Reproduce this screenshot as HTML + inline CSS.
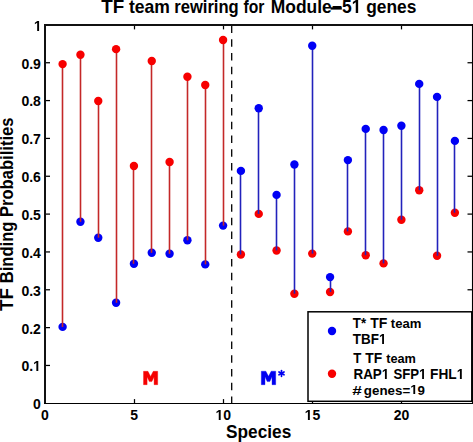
<!DOCTYPE html>
<html><head><meta charset="utf-8"><style>
html,body{margin:0;padding:0;background:#fff;overflow:hidden;}
svg{display:block;}
text{font-family:"Liberation Sans",sans-serif;font-weight:bold;fill:#000;}
</style></head><body>
<svg width="473" height="442" viewBox="0 0 473 442">
<rect width="473" height="442" fill="#fff"/>
<text transform="translate(13.00,310.89) rotate(-90) scale(0.9899,1)" font-size="19">TF</text>
<text transform="translate(13.00,283.32) rotate(-90) scale(0.9230,1)" font-size="18">Binding</text>
<text transform="translate(13.00,217.02) rotate(-90) scale(0.9221,1)" font-size="18">Probabilities</text>
<line x1="231.7" y1="25.6" x2="231.7" y2="403.3" stroke="#000" stroke-width="1.3" stroke-dasharray="7.5,6.233"/>
<g stroke="#000" stroke-width="1.25">
<line x1="134.50" y1="403.5" x2="134.50" y2="399.1" />
<line x1="134.50" y1="25" x2="134.50" y2="29.4" />
<line x1="223.50" y1="403.5" x2="223.50" y2="399.1" />
<line x1="223.50" y1="25" x2="223.50" y2="29.4" />
<line x1="312.50" y1="403.5" x2="312.50" y2="399.1" />
<line x1="312.50" y1="25" x2="312.50" y2="29.4" />
<line x1="401.50" y1="403.5" x2="401.50" y2="399.1" />
<line x1="401.50" y1="25" x2="401.50" y2="29.4" />
<line x1="45" y1="365.46" x2="50.0" y2="365.46" />
<line x1="472.5" y1="365.46" x2="467.5" y2="365.46" />
<line x1="45" y1="327.62" x2="50.0" y2="327.62" />
<line x1="472.5" y1="327.62" x2="467.5" y2="327.62" />
<line x1="45" y1="289.78" x2="50.0" y2="289.78" />
<line x1="472.5" y1="289.78" x2="467.5" y2="289.78" />
<line x1="45" y1="251.94" x2="50.0" y2="251.94" />
<line x1="472.5" y1="251.94" x2="467.5" y2="251.94" />
<line x1="45" y1="214.10" x2="50.0" y2="214.10" />
<line x1="472.5" y1="214.10" x2="467.5" y2="214.10" />
<line x1="45" y1="176.26" x2="50.0" y2="176.26" />
<line x1="472.5" y1="176.26" x2="467.5" y2="176.26" />
<line x1="45" y1="138.42" x2="50.0" y2="138.42" />
<line x1="472.5" y1="138.42" x2="467.5" y2="138.42" />
<line x1="45" y1="100.58" x2="50.0" y2="100.58" />
<line x1="472.5" y1="100.58" x2="467.5" y2="100.58" />
<line x1="45" y1="62.74" x2="50.0" y2="62.74" />
<line x1="472.5" y1="62.74" x2="467.5" y2="62.74" />
</g>
<circle cx="62.60" cy="326.90" r="4.2" fill="#0000f5"/>
<circle cx="80.43" cy="221.80" r="4.2" fill="#0000f5"/>
<circle cx="98.26" cy="237.70" r="4.2" fill="#0000f5"/>
<circle cx="116.09" cy="302.80" r="4.2" fill="#0000f5"/>
<circle cx="133.93" cy="263.80" r="4.2" fill="#0000f5"/>
<circle cx="151.76" cy="252.80" r="4.2" fill="#0000f5"/>
<circle cx="169.59" cy="253.80" r="4.2" fill="#0000f5"/>
<circle cx="187.42" cy="240.30" r="4.2" fill="#0000f5"/>
<circle cx="205.25" cy="264.40" r="4.2" fill="#0000f5"/>
<circle cx="223.08" cy="225.60" r="4.2" fill="#0000f5"/>
<circle cx="240.91" cy="254.50" r="4.2" fill="#f70000"/>
<circle cx="258.74" cy="213.90" r="4.2" fill="#f70000"/>
<circle cx="276.57" cy="250.50" r="4.2" fill="#f70000"/>
<circle cx="294.40" cy="293.70" r="4.2" fill="#f70000"/>
<circle cx="312.23" cy="253.60" r="4.2" fill="#f70000"/>
<circle cx="330.07" cy="292.00" r="4.2" fill="#f70000"/>
<circle cx="347.90" cy="231.40" r="4.2" fill="#f70000"/>
<circle cx="365.73" cy="255.20" r="4.2" fill="#f70000"/>
<circle cx="383.56" cy="263.40" r="4.2" fill="#f70000"/>
<circle cx="401.39" cy="219.75" r="4.2" fill="#f70000"/>
<circle cx="419.22" cy="190.20" r="4.2" fill="#f70000"/>
<circle cx="437.05" cy="255.70" r="4.2" fill="#f70000"/>
<circle cx="454.88" cy="212.70" r="4.2" fill="#f70000"/>
<line x1="62.50" y1="64.10" x2="62.50" y2="326.90" stroke="#c42828" stroke-width="1.6"/>
<line x1="80.50" y1="54.70" x2="80.50" y2="221.80" stroke="#c42828" stroke-width="1.6"/>
<line x1="98.50" y1="101.00" x2="98.50" y2="237.70" stroke="#c42828" stroke-width="1.6"/>
<line x1="116.50" y1="49.15" x2="116.50" y2="302.80" stroke="#c42828" stroke-width="1.6"/>
<line x1="133.50" y1="166.00" x2="133.50" y2="263.80" stroke="#c42828" stroke-width="1.6"/>
<line x1="151.50" y1="61.00" x2="151.50" y2="252.80" stroke="#c42828" stroke-width="1.6"/>
<line x1="169.50" y1="161.95" x2="169.50" y2="253.80" stroke="#c42828" stroke-width="1.6"/>
<line x1="187.50" y1="76.80" x2="187.50" y2="240.30" stroke="#c42828" stroke-width="1.6"/>
<line x1="205.50" y1="85.00" x2="205.50" y2="264.40" stroke="#c42828" stroke-width="1.6"/>
<line x1="223.50" y1="40.00" x2="223.50" y2="225.60" stroke="#c42828" stroke-width="1.6"/>
<line x1="240.50" y1="170.90" x2="240.50" y2="254.50" stroke="#2222bc" stroke-width="1.6"/>
<line x1="258.50" y1="108.30" x2="258.50" y2="213.90" stroke="#2222bc" stroke-width="1.6"/>
<line x1="276.50" y1="194.90" x2="276.50" y2="250.50" stroke="#2222bc" stroke-width="1.6"/>
<line x1="294.50" y1="164.50" x2="294.50" y2="293.70" stroke="#2222bc" stroke-width="1.6"/>
<line x1="312.50" y1="45.80" x2="312.50" y2="253.60" stroke="#2222bc" stroke-width="1.6"/>
<line x1="330.50" y1="277.10" x2="330.50" y2="292.00" stroke="#2222bc" stroke-width="1.6"/>
<line x1="347.50" y1="160.10" x2="347.50" y2="231.40" stroke="#2222bc" stroke-width="1.6"/>
<line x1="365.50" y1="128.90" x2="365.50" y2="255.20" stroke="#2222bc" stroke-width="1.6"/>
<line x1="383.50" y1="130.00" x2="383.50" y2="263.40" stroke="#2222bc" stroke-width="1.6"/>
<line x1="401.50" y1="125.70" x2="401.50" y2="219.75" stroke="#2222bc" stroke-width="1.6"/>
<line x1="419.50" y1="83.90" x2="419.50" y2="190.20" stroke="#2222bc" stroke-width="1.6"/>
<line x1="437.50" y1="96.90" x2="437.50" y2="255.70" stroke="#2222bc" stroke-width="1.6"/>
<line x1="454.50" y1="140.90" x2="454.50" y2="212.70" stroke="#2222bc" stroke-width="1.6"/>
<circle cx="62.60" cy="64.10" r="4.2" fill="#f70000"/>
<circle cx="80.43" cy="54.70" r="4.2" fill="#f70000"/>
<circle cx="98.26" cy="101.00" r="4.2" fill="#f70000"/>
<circle cx="116.09" cy="49.15" r="4.2" fill="#f70000"/>
<circle cx="133.93" cy="166.00" r="4.2" fill="#f70000"/>
<circle cx="151.76" cy="61.00" r="4.2" fill="#f70000"/>
<circle cx="169.59" cy="161.95" r="4.2" fill="#f70000"/>
<circle cx="187.42" cy="76.80" r="4.2" fill="#f70000"/>
<circle cx="205.25" cy="85.00" r="4.2" fill="#f70000"/>
<circle cx="223.08" cy="40.00" r="4.2" fill="#f70000"/>
<circle cx="240.91" cy="170.90" r="4.2" fill="#0000f5"/>
<circle cx="258.74" cy="108.30" r="4.2" fill="#0000f5"/>
<circle cx="276.57" cy="194.90" r="4.2" fill="#0000f5"/>
<circle cx="294.40" cy="164.50" r="4.2" fill="#0000f5"/>
<circle cx="312.23" cy="45.80" r="4.2" fill="#0000f5"/>
<circle cx="330.07" cy="277.10" r="4.2" fill="#0000f5"/>
<circle cx="347.90" cy="160.10" r="4.2" fill="#0000f5"/>
<circle cx="365.73" cy="128.90" r="4.2" fill="#0000f5"/>
<circle cx="383.56" cy="130.00" r="4.2" fill="#0000f5"/>
<circle cx="401.39" cy="125.70" r="4.2" fill="#0000f5"/>
<circle cx="419.22" cy="83.90" r="4.2" fill="#0000f5"/>
<circle cx="437.05" cy="96.90" r="4.2" fill="#0000f5"/>
<circle cx="454.88" cy="140.90" r="4.2" fill="#0000f5"/>
<path d="M143.50 384.70 L143.50 371.30 L147.97 371.30 L150.60 376.39 L153.23 371.30 L157.70 371.30 L157.70 384.70 L154.08 384.70 L154.08 376.93 L151.88 381.62 L149.32 381.62 L147.12 376.93 L147.12 384.70 Z" fill="#f50000" stroke="#f50000" stroke-width="0.35" stroke-linejoin="round"/>
<path d="M261.30 384.70 L261.30 371.20 L265.84 371.20 L268.50 376.33 L271.16 371.20 L275.70 371.20 L275.70 384.70 L272.03 384.70 L272.03 376.87 L269.80 381.59 L267.20 381.59 L264.97 376.87 L264.97 384.70 Z" fill="#0000f0" stroke="#0000f0" stroke-width="0.35" stroke-linejoin="round"/>
<line x1="281.50" y1="370.50" x2="281.50" y2="376.30" stroke="#0000f0" stroke-width="1.7" stroke-linecap="round"/><line x1="278.99" y1="371.95" x2="284.01" y2="374.85" stroke="#0000f0" stroke-width="1.7" stroke-linecap="round"/><line x1="284.01" y1="371.95" x2="278.99" y2="374.85" stroke="#0000f0" stroke-width="1.7" stroke-linecap="round"/>
<rect x="308" y="311.8" width="163.8" height="89.5" fill="#fff" stroke="#000" stroke-width="1.5"/>
<circle cx="332" cy="331" r="4.2" fill="#0000f5"/>
<circle cx="332" cy="373.7" r="4.2" fill="#f70000"/>
<text transform="translate(41.07,420.00) scale(1.0000,1)" font-size="14">0</text>
<text transform="translate(130.23,420.00) scale(1.0000,1)" font-size="14">5</text>
<text transform="translate(215.49,420.00) scale(1.0000,1)" font-size="14">&#8199;0</text>
<path d="M218.76 420.00 L218.76 411.70 L216.45 413.19 L216.45 411.63 L218.86 410.00 L220.68 410.00 L220.68 420.00 Z" fill="#000"/>
<text transform="translate(304.65,420.00) scale(1.0000,1)" font-size="14">&#8199;5</text>
<path d="M307.91 420.00 L307.91 411.70 L305.60 413.19 L305.60 411.63 L308.02 410.00 L309.83 410.00 L309.83 420.00 Z" fill="#000"/>
<text transform="translate(393.80,420.00) scale(1.0000,1)" font-size="14">20</text>
<text transform="translate(33.10,409.20) scale(1.0000,1)" font-size="14">0</text>
<text transform="translate(21.43,371.36) scale(1.0000,1)" font-size="14">0.&#8199;</text>
<path d="M36.37 371.00 L36.37 362.70 L34.06 364.19 L34.06 362.63 L36.47 361.00 L38.29 361.00 L38.29 371.00 Z" fill="#000"/>
<text transform="translate(21.43,333.52) scale(1.0000,1)" font-size="14">0.2</text>
<text transform="translate(21.43,295.68) scale(1.0000,1)" font-size="14">0.3</text>
<text transform="translate(21.43,257.84) scale(1.0000,1)" font-size="14">0.4</text>
<text transform="translate(21.43,220.00) scale(1.0000,1)" font-size="14">0.5</text>
<text transform="translate(21.43,182.16) scale(1.0000,1)" font-size="14">0.6</text>
<text transform="translate(21.43,144.32) scale(1.0000,1)" font-size="14">0.7</text>
<text transform="translate(21.43,106.48) scale(1.0000,1)" font-size="14">0.8</text>
<text transform="translate(21.43,68.64) scale(1.0000,1)" font-size="14">0.9</text>
<text transform="translate(33.90,30.80) scale(1.0000,1)" font-size="14">&#8199;</text>
<path d="M37.17 31.00 L37.17 22.70 L34.86 24.19 L34.86 22.63 L37.27 21.00 L39.09 21.00 L39.09 31.00 Z" fill="#000"/>
<text transform="translate(101.31,13.00) scale(0.9899,1)" font-size="19">TF</text>
<text transform="translate(128.98,13.00) scale(0.9759,1)" font-size="18">team</text>
<text transform="translate(174.22,13.00) scale(0.9220,1)" font-size="18">rewiring</text>
<text transform="translate(243.53,13.00) scale(0.8701,1)" font-size="18">for</text>
<text transform="translate(270.72,13.00) scale(0.9696,1)" font-size="18">Module&#8722;5&#8199;</text>
<path d="M355.75 13.00 L355.75 2.21 L352.87 4.15 L352.87 2.11 L355.88 0.00 L358.15 0.00 L358.15 13.00 Z" fill="#000"/>
<text transform="translate(366.21,13.00) scale(0.9648,1)" font-size="18">genes</text>
<text transform="translate(226.08,438.30) scale(0.9584,1)" font-size="18">Species</text>
<text transform="translate(352.87,328.00) scale(0.9476,1)" font-size="14">T*</text>
<text transform="translate(370.16,328.00) scale(1.0030,1)" font-size="14">TF</text>
<text transform="translate(390.84,328.00) scale(0.9702,1)" font-size="13.5">team</text>
<text transform="translate(352.87,343.80) scale(0.9606,1)" font-size="14">TBF&#8199;</text>
<path d="M382.14 344.00 L382.14 335.70 L379.92 337.19 L379.92 335.63 L382.24 334.00 L383.98 334.00 L383.98 344.00 Z" fill="#000"/>
<text transform="translate(353.17,363.40) scale(0.9443,1)" font-size="14">T</text>
<text transform="translate(365.36,363.40) scale(0.9909,1)" font-size="14">TF</text>
<text transform="translate(386.14,363.40) scale(0.9440,1)" font-size="13.5">team</text>
<text transform="translate(353.49,379.00) scale(0.9583,1)" font-size="14">RAP&#8199;</text>
<path d="M384.94 379.00 L384.94 370.70 L382.73 372.19 L382.73 370.63 L385.04 369.00 L386.78 369.00 L386.78 379.00 Z" fill="#000"/>
<text transform="translate(393.40,379.00) scale(0.9430,1)" font-size="14">SFP&#8199;</text>
<path d="M422.15 379.00 L422.15 370.70 L419.97 372.19 L419.97 370.63 L422.25 369.00 L423.96 369.00 L423.96 379.00 Z" fill="#000"/>
<text transform="translate(430.07,379.00) scale(0.9789,1)" font-size="14">FHL&#8199;</text>
<path d="M459.90 379.00 L459.90 370.70 L457.64 372.19 L457.64 370.63 L460.00 369.00 L461.78 369.00 L461.78 379.00 Z" fill="#000"/>
<text transform="translate(352.20,394.50) scale(1.2759,1)" font-size="13.5">#</text>
<text transform="translate(363.87,394.50) scale(0.9887,1)" font-size="13.5">genes=&#8199;9</text>
<path d="M413.34 394.00 L413.34 386.53 L411.14 387.87 L411.14 386.46 L413.44 385.00 L415.18 385.00 L415.18 394.00 Z" fill="#000"/>
<rect x="330.6" y="7.3" width="11.2" height="2.3" fill="#000"/>
<line x1="45" y1="24" x2="45" y2="404" stroke="#111" stroke-width="2"/>
<line x1="44" y1="25" x2="473" y2="25" stroke="#111" stroke-width="2"/>
<line x1="472.5" y1="24" x2="472.5" y2="404" stroke="#000" stroke-width="1.1"/>
<line x1="44" y1="403.5" x2="473" y2="403.5" stroke="#000" stroke-width="1.2"/>
</svg>
</body></html>
